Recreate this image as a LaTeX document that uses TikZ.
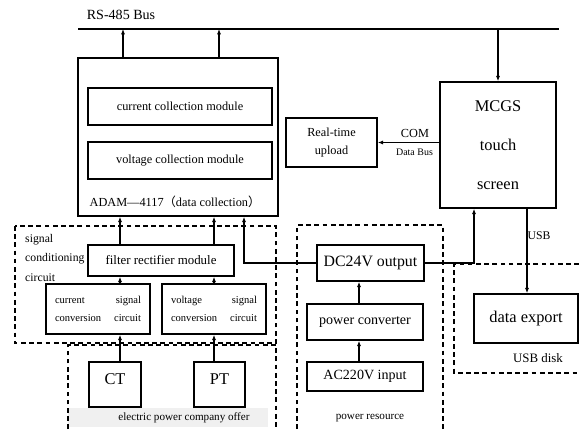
\documentclass[tikz,border=0pt]{standalone}
\usepackage{fontspec}
\setmainfont{Liberation Serif}
\newfontfamily\cjk{Noto Sans CJK SC}
\usetikzlibrary{arrows.meta}

\begin{document}
\begin{tikzpicture}[x=0.3mm, y=-0.3mm,
    box/.style={draw, line width=1.3pt, inner sep=0pt},
    arr/.style={line width=1pt, -{Latex[length=4.5pt,width=3.5pt]}},
    group/.style={line width=1.1pt, dash pattern=on 4pt off 3pt}]
      \useasboundingbox (0,0) rectangle (579,429);
      %\draw [dotted, step=10] (0,0) grid (579,429);
      \coordinate (busL) at ( 78, 29);
      \coordinate (busR) at (559, 29);
      \coordinate   (c1) at (123,  0);
      \coordinate   (c2) at (219,  0);
      \coordinate   (c3) at (120,  0);
      \coordinate   (c4) at (214,  0);
      \coordinate   (c5) at (244,  0);
      \coordinate   (c6) at (359,  0);
      \coordinate   (c7) at (474,  0);
      \coordinate   (c8) at (527,  0);
      \draw [line width=1pt] (busL) -- (busR);
      \node [font=\fontsize{12}{14}\selectfont] (bus) at (121, 15) {RS-485 Bus};

      % dashed groups
      \draw [group] (15,226) rectangle (276,343);
      \fill [gray!12] (68,408) rectangle (268,427);
      \draw [group] (68,429) -- (68,345) -- (276,345) -- (276,429);
      \draw [group] (297,429) -- (297,225) -- (443,225) -- (443,429);
      \draw [group] (579,264) -- (454,264) -- (454,373) -- (579,373);

      % data collection
      \node [box, minimum width=60mm, minimum height=47.4mm] (adam) at (178, 137) {};
      \node [box, minimum width=55.2mm, minimum height=11.1mm, font=\fontsize{10.5}{12}\selectfont]
            (cur) at (180, 106.5) {current collection module};
      \node [box, minimum width=55.2mm, minimum height=11.1mm, font=\fontsize{10.5}{12}\selectfont]
            (vol) at (180, 160.5) {voltage collection module};
      \node [font=\fontsize{10.5}{12}\selectfont] (adamtxt) at (175, 202)
            {ADAM—4117{\cjk （}data collection{\cjk ）}};

      % touch screen
      \node [box, minimum width=34.8mm, minimum height=37.8mm, align=center, font=\fontsize{14}{33}\selectfont]
            (mcgs) at (498, 145) {MCGS\\touch\\screen};
      \node [box, minimum width=27.3mm, minimum height=14.7mm, align=center, font=\fontsize{10.5}{16}\selectfont]
            (upload) at (331.5, 142.5) {Real-time\\upload};
      \node [font=\fontsize{10.5}{12}\selectfont] (com) at (415, 133) {COM};
      \node [font=\fontsize{8.5}{10}\selectfont] (dbus) at (414.5, 152) {Data Bus};

      % signal conditioning
      \node [anchor=north west, inner sep=0pt, align=left, font=\fontsize{10}{16.5}\selectfont]
            (sig) at (25, 234) {signal\\conditioning\\circuit};
      \node [box, minimum width=43.8mm, minimum height=9.3mm, font=\fontsize{11}{13}\selectfont]
            (filt) at (161, 260.5) {filter rectifier module};
      \node [box, minimum width=31.2mm, minimum height=15mm, text width=25.8mm, align=left, font=\fontsize{9}{16}\selectfont]
            (curconv) at ( 98, 309) {current\hfill signal\\conversion\hfill circuit};
      \node [box, minimum width=31.2mm, minimum height=15mm, text width=25.8mm, align=left, font=\fontsize{9}{16}\selectfont]
            (volconv) at (214, 309) {voltage\hfill signal\\conversion\hfill circuit};
      \node [box, minimum width=15.6mm, minimum height=13.5mm, text depth=10pt, font=\fontsize{14}{16}\selectfont]
            (ct) at (115, 384.5) {CT};
      \node [box, minimum width=15.3mm, minimum height=13.5mm, text depth=10pt, font=\fontsize{14}{16}\selectfont]
            (pt) at (219.5, 384.5) {PT};
      \node [font=\fontsize{9.5}{11}\selectfont] (offer) at (184, 418) {electric power company offer};

      % power resource
      \node [box, minimum width=32.1mm, minimum height=10.8mm, font=\fontsize{13.5}{15}\selectfont]
            (dc) at (370.5, 263) {DC24V output};
      \node [box, minimum width=34.8mm, minimum height=10.8mm, font=\fontsize{12}{14}\selectfont]
            (conv) at (365, 322) {power converter};
      \node [box, minimum width=34.8mm, minimum height=8.7mm, font=\fontsize{12}{14}\selectfont]
            (ac) at (365, 376.5) {AC220V input};
      \node [font=\fontsize{9.5}{11}\selectfont] (res) at (370, 418) {power resource};

      % usb disk
      \node [box, minimum width=31.2mm, minimum height=14.7mm, font=\fontsize{14}{16}\selectfont]
            (export) at (526, 318.5) {data export};
      \node [font=\fontsize{10}{12}\selectfont] (usb) at (539, 236) {USB};
      \node [font=\fontsize{11}{13}\selectfont] (disk) at (538, 358) {USB disk};

      % connections
      \draw [arr] (adam.north -| c1) -- (busL -| c1);
      \draw [arr] (adam.north -| c2) -- (busL -| c2);
      \draw [arr] (busL -| mcgs.north) -- (mcgs.north);
      \draw [arr] (mcgs.west |- upload.east) -- (upload.east);
      \draw [arr] (filt.north -| c3) -- (adam.south -| c3);
      \draw [arr] (filt.north -| c4) -- (adam.south -| c4);
      \draw [arr] (curconv.north -| c3) -- (filt.south -| c3);
      \draw [arr] (volconv.north -| c4) -- (filt.south -| c4);
      \draw [arr] (ct.north -| c3) -- (curconv.south -| c3);
      \draw [arr] (pt.north -| c4) -- (volconv.south -| c4);
      \draw [arr] (dc.west) -| (adam.south -| c5);
      \draw [arr] (dc.east) -| (mcgs.south -| c7);
      \draw [arr] (conv.north -| c6) -- (dc.south -| c6);
      \draw [arr] (ac.north -| c6) -- (conv.south -| c6);
      \draw [arr] (mcgs.south -| c8) -- (export.north -| c8);
\end{tikzpicture}
\end{document}
